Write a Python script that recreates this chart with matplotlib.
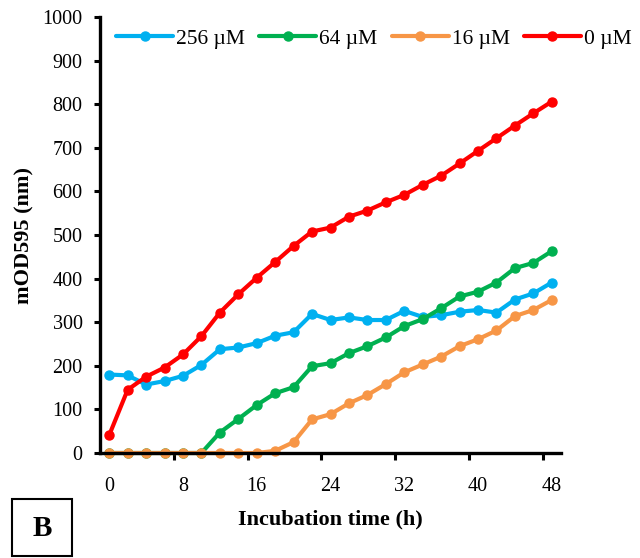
import matplotlib
matplotlib.use("Agg")
import matplotlib.pyplot as plt
from matplotlib.patches import Rectangle
from matplotlib.ticker import FixedLocator, NullFormatter, FixedFormatter


hours = list(range(0, 49, 2))

od_256 = [180, 178, 157, 165, 177, 202, 238, 242, 252, 269, 277, 319,
          305, 311, 305, 305, 326, 312, 316, 324, 328, 322, 352, 366, 391]
od_64 = [0, 0, 0, 0, 0, 0, 47, 78, 110, 137, 151, 199,
         206, 229, 245, 265, 291, 307, 332, 359, 370, 391, 424, 436, 463]
od_16 = [0, 0, 0, 0, 0, 0, 0, 0, 0, 5, 25, 77,
         89, 114, 133, 158, 185, 203, 221, 245, 261, 281, 314, 328, 351]
od_0 = [41, 145, 175, 196, 226, 268, 322, 364, 402, 438, 475, 508,
        517, 542, 556, 575, 592, 615, 636, 664, 693, 722, 751, 779, 806]

series_labels = ["256 \u00b5M", "64 \u00b5M", "16 \u00b5M", "0 \u00b5M"]
series_colors = ["#00B0F0", "#00B050", "#F79646", "#FF0000"]

x_labels = ["0", "8", "16", "24", "32", "40", "48"]
x_label_pos = [0, 8, 16, 24, 32, 40, 48]
x_tick_marks = [7, 15, 23, 31, 39, 47]

SERIF = ["Liberation Serif", "DejaVu Serif"]
plt.rcParams["font.family"] = SERIF


def main():
    fig = plt.figure(figsize=(6.4, 5.58), dpi=100)
    ax = fig.add_axes([100 / 640, 1 - 453 / 558, 461 / 640, 436 / 558])

    for values, label, color in zip([od_256, od_64, od_16, od_0],
                                    series_labels, series_colors):
        ax.plot(hours, values, color=color, lw=3, marker="o", ms=6.5,
                label=label, solid_capstyle="round", clip_on=False)

    ax.set_xlim(-1, 49)
    ax.set_ylim(0, 1000)

    # category-style axis: tick marks sit between the labelled points
    ax.xaxis.set_major_locator(FixedLocator(x_tick_marks))
    ax.xaxis.set_major_formatter(NullFormatter())
    ax.xaxis.set_minor_locator(FixedLocator(x_label_pos))
    ax.xaxis.set_minor_formatter(FixedFormatter(x_labels))
    ax.tick_params(axis="x", which="major", direction="out", length=5,
                   width=2.2)
    ax.tick_params(axis="x", which="minor", length=0, pad=17, labelsize=14.5)

    ax.set_yticks(range(0, 1001, 100))
    ax.tick_params(axis="y", direction="out", length=4.5, width=2.2,
                   pad=8, labelsize=14.5)

    for side in ("top", "right"):
        ax.spines[side].set_visible(False)
    for side in ("left", "bottom"):
        ax.spines[side].set_linewidth(2.4)

    ax.set_ylabel("mOD595 (nm)", fontsize=16, fontweight="bold",
                  labelpad=6)
    ax.set_xlabel("Incubation time (h)", fontsize=16, fontweight="bold",
                  labelpad=10)

    fig.legend(loc="center left", bbox_to_anchor=(116 / 640, 1 - 39 / 558),
               ncol=4, frameon=False, fontsize=15.5, handlelength=2.65,
               handletextpad=0.15, columnspacing=0.65, borderpad=0,
               borderaxespad=0)

    fig.add_artist(Rectangle((12 / 640, 1 - 556 / 558), 60 / 640, 57 / 558,
                             transform=fig.transFigure, fill=False,
                             edgecolor="black", lw=1.5))
    fig.text(42 / 640, 1 - 528 / 558, "B", ha="center", va="center",
             fontsize=21, fontweight="bold")

    fig.savefig("out.png", dpi=100)
    plt.close(fig)


if __name__ == "__main__":
    main()
